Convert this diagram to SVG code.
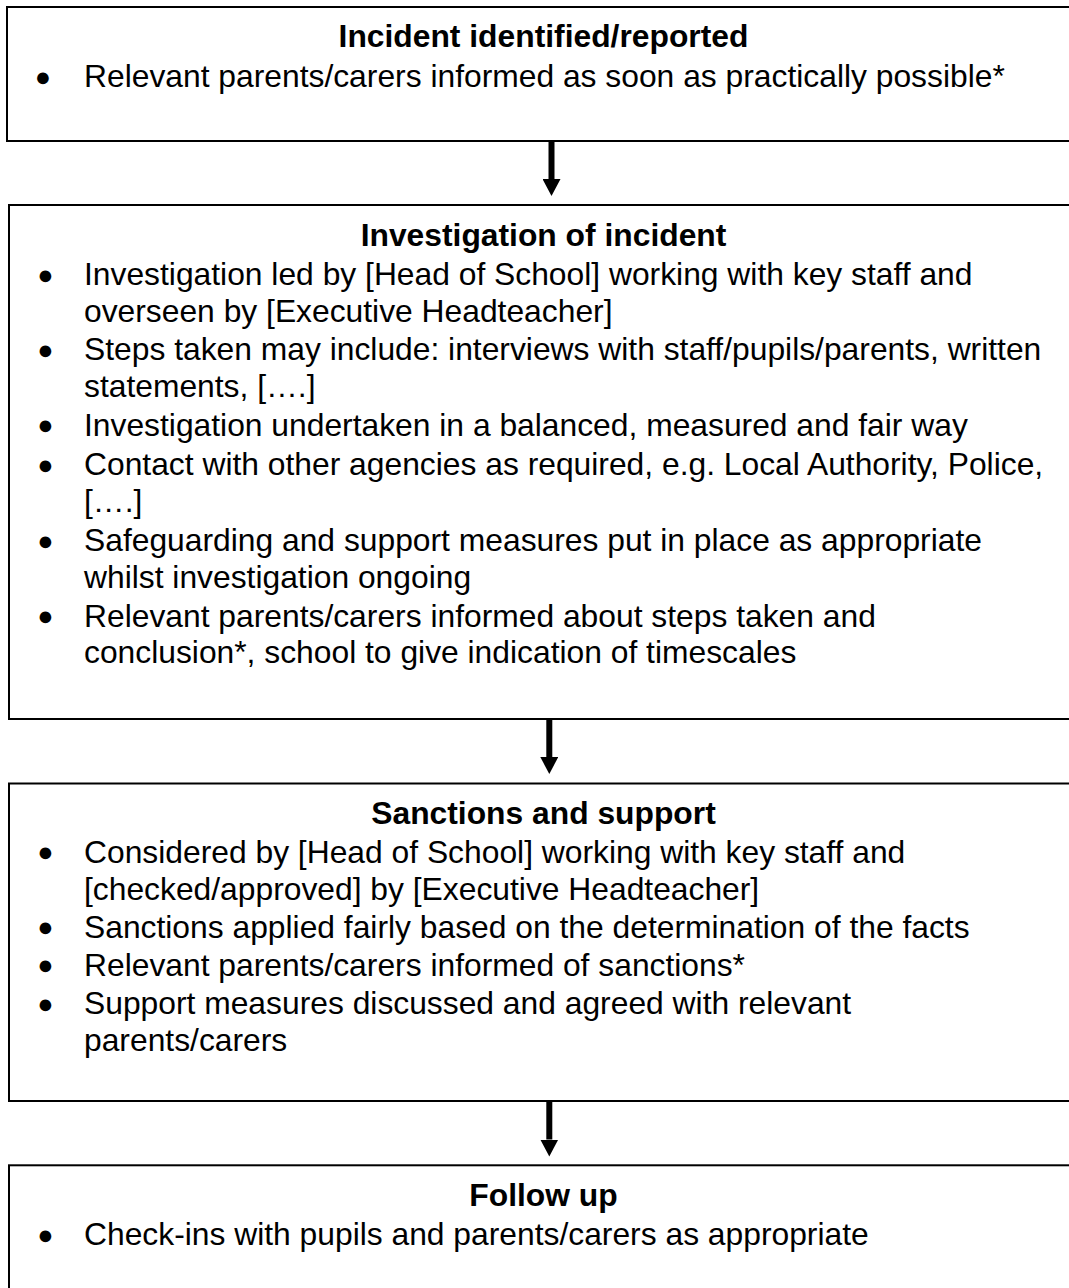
<svg xmlns="http://www.w3.org/2000/svg" width="1069" height="1288" viewBox="0 0 1069 1288">
<style>
.box{fill:#fff;stroke:#000;stroke-width:2}
text{font-family:"Liberation Sans",Arial,sans-serif;font-size:31.8px;fill:#000}
.t{font-weight:bold;text-anchor:middle}
.b{font-size:27px;text-anchor:middle}
.c{stroke:#000;stroke-width:6;fill:none}
</style>
<defs>
<marker id="ah" markerUnits="userSpaceOnUse" markerWidth="17" markerHeight="18" viewBox="0 0 17 18" refX="0" refY="9" orient="auto">
<path d="M0,0 L17,9 L0,18 Z" fill="#000"/>
</marker>
</defs>
<rect width="1069" height="1288" fill="#fff"/>
<g id="n1">
<rect class="box" x="7" y="7" width="1073" height="134"/>
<text class="t" x="543.5" y="47">Incident identified/reported</text>
<text class="b" x="43" y="85.5">●</text>
<text x="84" y="87">Relevant parents/carers informed as soon as practically possible*</text>
</g>
<g id="n2">
<rect class="box" x="9" y="205" width="1071" height="514"/>
<text class="t" x="543.5" y="246">Investigation of incident</text>
<text class="b" x="45.5" y="283.5">●</text>
<text x="84" y="285">Investigation led by [Head of School] working with key staff and</text>
<text x="84" y="321.6">overseen by [Executive Headteacher]</text>
<text class="b" x="45.5" y="358.5">●</text>
<text x="84" y="360">Steps taken may include: interviews with staff/pupils/parents, written</text>
<text x="84" y="396.6">statements, [….]</text>
<text class="b" x="45.5" y="434">●</text>
<text x="84" y="435.5">Investigation undertaken in a balanced, measured and fair way</text>
<text class="b" x="45.5" y="473.5">●</text>
<text x="84" y="475">Contact with other agencies as required, e.g. Local Authority, Police,</text>
<text x="84" y="512">[….]</text>
<text class="b" x="45.5" y="549.5">●</text>
<text x="84" y="551">Safeguarding and support measures put in place as appropriate</text>
<text x="84" y="587.6">whilst investigation ongoing</text>
<text class="b" x="45.5" y="625.2">●</text>
<text x="84" y="626.7">Relevant parents/carers informed about steps taken and</text>
<text x="84" y="663.3">conclusion*, school to give indication of timescales</text>
</g>
<g id="n3">
<rect class="box" x="9" y="783.5" width="1071" height="317.5"/>
<text class="t" x="543.5" y="824">Sanctions and support</text>
<text class="b" x="45.5" y="861.2">●</text>
<text x="84" y="862.7">Considered by [Head of School] working with key staff and</text>
<text x="84" y="899.8">[checked/approved] by [Executive Headteacher]</text>
<text class="b" x="45.5" y="936.3">●</text>
<text x="84" y="937.8">Sanctions applied fairly based on the determination of the facts</text>
<text class="b" x="45.5" y="974">●</text>
<text x="84" y="975.5">Relevant parents/carers informed of sanctions*</text>
<text class="b" x="45.5" y="1012.5">●</text>
<text x="84" y="1014">Support measures discussed and agreed with relevant</text>
<text x="84" y="1050.8">parents/carers</text>
</g>
<g id="n4">
<rect class="box" x="9" y="1165.3" width="1071" height="140"/>
<text class="t" x="543.5" y="1206">Follow up</text>
<text class="b" x="45.5" y="1243.5">●</text>
<text x="84" y="1245">Check-ins with pupils and parents/carers as appropriate</text>
</g>
<g id="connectors">
<line class="c" x1="551.5" y1="142" x2="551.5" y2="179" marker-end="url(#ah)"/>
<line class="c" x1="549.3" y1="720" x2="549.3" y2="757" marker-end="url(#ah)"/>
<line class="c" x1="549.3" y1="1102" x2="549.3" y2="1139.5" marker-end="url(#ah)"/>
</g>
</svg>
